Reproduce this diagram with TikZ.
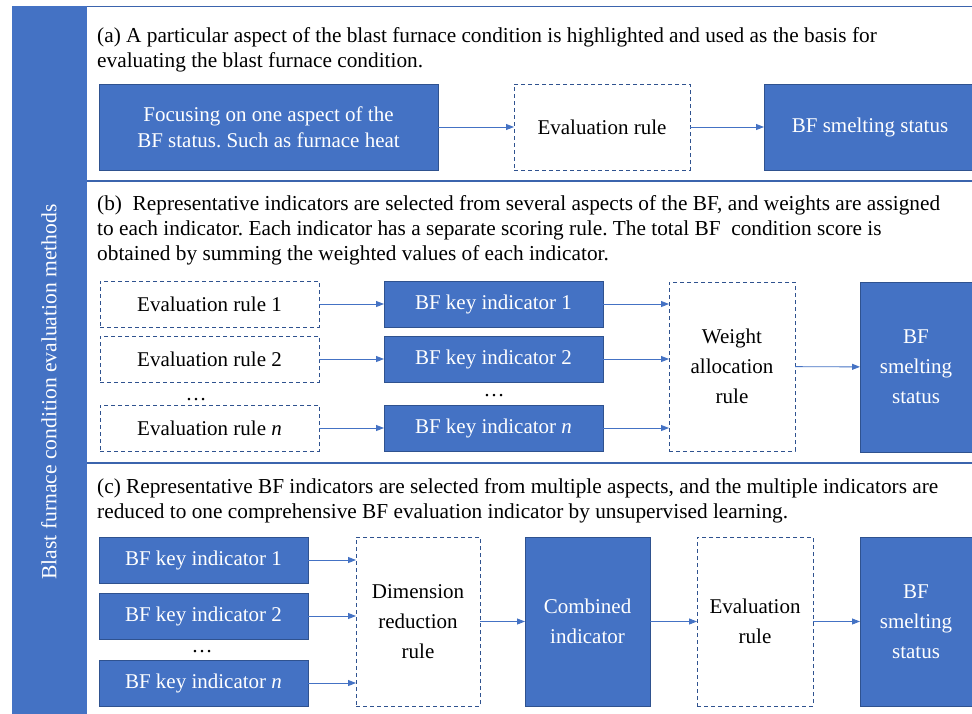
\documentclass[tikz,border=0pt]{standalone}
\usepackage{fontspec}
\setmainfont{Liberation Serif}
\usetikzlibrary{arrows.meta}
\definecolor{bfblue}{HTML}{4472C4}
\definecolor{bfdark}{HTML}{2F528F}
\definecolor{bfline}{HTML}{3B64AD}
\frenchspacing
\tikzset{
  solidbox/.style={draw=bfdark, line width=0.8pt, fill=bfblue, text=white,
    font=\fontsize{21}{30}\selectfont, align=center, inner sep=0pt, outer sep=0pt},
  dashbox/.style={draw=bfdark, dash pattern=on 4pt off 3pt, line width=0.9pt, fill=white,
    text=black, font=\fontsize{21}{30}\selectfont, align=center, inner sep=0pt, outer sep=0pt},
  arr/.style={draw=bfblue, line width=0.9pt, -{Triangle[length=8pt,width=6pt]}},
  headtext/.style={anchor=north west, align=left, font=\fontsize{21.3}{25}\selectfont, inner sep=0pt},
  dotstext/.style={anchor=base, font=\fontsize{21}{25}\selectfont, inner sep=0pt},
  sepline/.style={draw=bfline, line width=1.4pt}
}
\begin{document}
\begin{tikzpicture}[x=1pt,y=-1pt]
\useasboundingbox (0,0) rectangle (972,713);
\fill[white] (0,0) rectangle (972,713);
% left bar
\fill[bfblue] (12,6) rectangle (87,716);
\node[rotate=90, text=white, font=\fontsize{21.6}{24}\selectfont, inner sep=0pt] (side) at (49,392)
  {Blast furnace condition evaluation methods};
% frame lines
\draw[sepline] (87,6.5) -- (975,6.5);
\draw[sepline] (87,181) -- (975,181);
\draw[sepline] (87,463) -- (975,463);

% ---------- (a)
\node[headtext] (ha) at (97,27) {(a) A particular aspect of the blast furnace condition is highlighted and used as the basis for\\evaluating the blast furnace condition.};
\node[solidbox, minimum width=339pt, minimum height=86pt, font=\fontsize{21}{26}\selectfont] (a1) at (268.5,127)
  {Focusing on one aspect of the\\BF status. Such as furnace heat};
\node[dashbox, minimum width=176pt, minimum height=86pt] (a2) at (602,127) {Evaluation rule};
\node[solidbox, minimum width=212pt, minimum height=86pt] (a3) at (870,127) {BF smelting status};
\draw[arr] (a1) -- (a2);
\draw[arr] (a2) -- (a3);

% ---------- (b)
\node[headtext] (hb) at (97,195) {(b)\ \ Representative indicators are selected from several aspects of the BF, and weights are assigned\\to each indicator. Each indicator has a separate scoring rule. The total BF\ \ condition score is\\obtained by summing the weighted values of each indicator.};
\node[dashbox, minimum width=219pt, minimum height=46pt] (r1) at (209.5,304) {Evaluation rule 1};
\node[dashbox, minimum width=219pt, minimum height=46pt] (r2) at (209.5,359) {Evaluation rule 2};
\node[dashbox, minimum width=219pt, minimum height=46pt] (rn) at (209.5,428) {Evaluation rule \textit{n}};
\node[dotstext] (rdots) at (196,400) {\dots};
\node[solidbox, minimum width=219pt, minimum height=46pt] (k1) at (493.5,304) {BF key indicator 1};
\node[solidbox, minimum width=219pt, minimum height=46pt] (k2) at (493.5,359) {BF key indicator 2};
\node[solidbox, minimum width=219pt, minimum height=46pt] (kn) at (493.5,428) {BF key indicator \textit{n}};
\node[dotstext] (kdots) at (494,396) {\dots};
\node[dashbox, minimum width=126pt, minimum height=169pt] (w) at (732,366.5) {Weight\\allocation\\rule};
\node[solidbox, minimum width=112pt, minimum height=170pt] (bs) at (916,367) {BF\\smelting\\status};
\draw[arr] (r1) -- (k1);
\draw[arr] (r2) -- (k2);
\draw[arr] (rn) -- (kn);
\draw[arr] (k1.east) -- (k1.east -| w.west);
\draw[arr] (k2.east) -- (k2.east -| w.west);
\draw[arr] (kn.east) -- (kn.east -| w.west);
\draw[arr] (w) -- (bs);

% ---------- (c)
\node[headtext] (hc) at (97,478) {(c) Representative BF indicators are selected from multiple aspects, and the multiple indicators are\\reduced to one comprehensive BF evaluation indicator by unsupervised learning.};
\node[solidbox, minimum width=209pt, minimum height=46pt] (c1) at (203.5,560) {BF key indicator 1};
\node[solidbox, minimum width=209pt, minimum height=46pt] (c2) at (203.5,616) {BF key indicator 2};
\node[solidbox, minimum width=209pt, minimum height=46pt] (cn) at (203.5,683) {BF key indicator \textit{n}};
\node[dotstext] (cdots) at (202,652) {\dots};
\node[dashbox, minimum width=124pt, minimum height=169pt] (dim) at (418,621.5) {Dimension\\reduction\\rule};
\node[solidbox, minimum width=125pt, minimum height=169pt] (comb) at (587.5,621.5) {Combined\\indicator};
\node[dashbox, minimum width=116pt, minimum height=169pt] (ce) at (755,621.5) {Evaluation\\rule};
\node[solidbox, minimum width=112pt, minimum height=169pt] (cs) at (916,621.5) {BF\\smelting\\status};
\draw[arr] (c1.east) -- (c1.east -| dim.west);
\draw[arr] (c2.east) -- (c2.east -| dim.west);
\draw[arr] (cn.east) -- (cn.east -| dim.west);
\draw[arr] (dim) -- (comb);
\draw[arr] (comb) -- (ce);
\draw[arr] (ce) -- (cs);
\end{tikzpicture}
\end{document}
